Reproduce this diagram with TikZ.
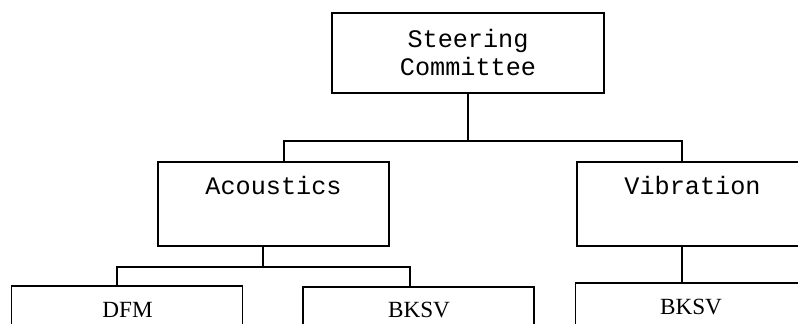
\documentclass[tikz,border=0pt]{standalone}
\usepackage{fontspec}
\setmonofont{Liberation Mono}
\newfontfamily\orgserif{Liberation Serif}
\usepackage{tikz}

\begin{document}
\begin{tikzpicture}[x=0.5pt,y=-0.5pt,line width=0.7pt,
  unit/.style={draw,inner sep=0pt,outer sep=0pt,minimum width=115.5pt,minimum height=42pt},
  toptxt/.style={font=\ttfamily\fontsize{12.6}{14}\selectfont,inner sep=0pt,align=center},
  subtxt/.style={font=\orgserif\fontsize{11.6}{13}\selectfont,inner sep=0pt}]

\useasboundingbox (0,0) rectangle (798,323);
\clip (0,0) rectangle (798,323);

%% boxes
\node[unit,minimum width=136pt,minimum height=40pt] (steer) at (468,53) {};  %% steering committee
\node[unit] (acou)  at (273.5,204) {};   %% acoustics
\node[unit] (vib)   at (692.5,204) {};   %% vibration
\node[unit] (dfm)   at (127,328) {};     %% dfm
\node[unit] (bksva) at (418.5,329) {};   %% bksv under acoustics
\node[unit] (bksvb) at (691,325) {};     %% bksv under vibration

%% box texts
\node[toptxt] (steer-t) at (468,52) {Steering\\Committee};
\node[toptxt,anchor=base] (acou-t) at (273.5,194) {Acoustics};
\node[toptxt,anchor=base] (vib-t)  at (692.5,194) {Vibration};
\node[subtxt,anchor=base] (dfm-t)   at (127.5,317) {DFM};
\node[subtxt,anchor=base] (bksva-t) at (419,317) {BKSV};
\node[subtxt,anchor=base] (bksvb-t) at (691,314) {BKSV};

%%% connectors
\coordinate (bus1) at ([yshift=-24pt]steer.south);
\draw (steer.south) -- (bus1);
\draw ([xshift=5.25pt]acou.north) |- (bus1) -| ([xshift=-5.25pt]vib.north);

\coordinate (bus2) at ([xshift=-5.25pt,yshift=-10.5pt]acou.south);
\draw ([xshift=-5.25pt]acou.south) -- (bus2);
\draw ([xshift=-5pt]dfm.north) |- (bus2) -| ([xshift=-4.25pt]bksva.north);

\draw ([xshift=-5.25pt]vib.south) -- ([xshift=-4.5pt]bksvb.north);
\end{tikzpicture}
\end{document}
